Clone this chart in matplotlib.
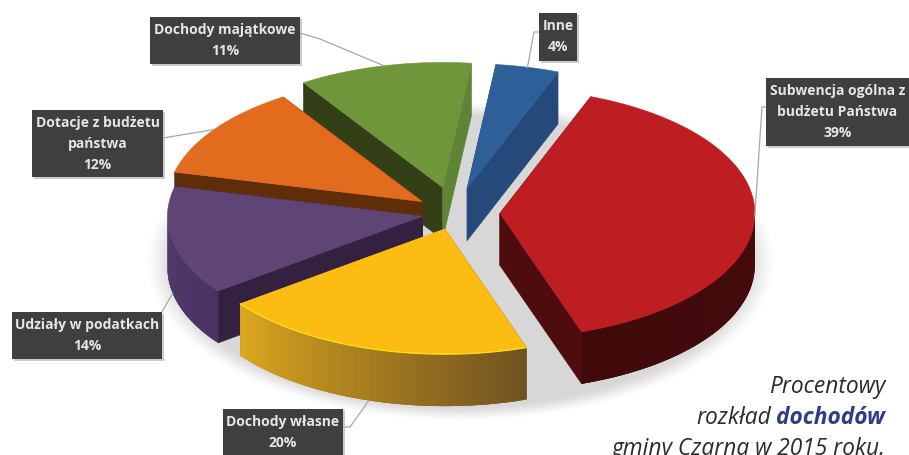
"""Exploded 3D pie of the Czarna municipality income shares in 2015."""

import numpy as np
import matplotlib

matplotlib.use("Agg")
import matplotlib.pyplot as plt
from matplotlib.collections import PolyCollection
from matplotlib.colors import to_rgb
from matplotlib.patches import Polygon, Rectangle

# clockwise from the top of the pie
labels = ["Inne", "Subwencja ogólna z\nbudżetu Państwa", "Dochody własne",
          "Udziały w podatkach", "Dotacje z budżetu\npaństwa", "Dochody majątkowe"]
shares = [4, 39, 20, 14, 12, 11]
explode = [0.20, 0.176, 0.135, 0.13, 0.157, 0.21]

top_colors = ["#2f5f98", "#be1e22", "#fcbc12", "#5f4576", "#e36b1e", "#6f963a"]
start_wall = ["#24497a", "#480b0d", "#7a5a20", "#34213f", "#5f2d08", "#333f16"]
end_wall = ["#24497a", "#4f0c0e", "#e0aa20", "#34213f", "#5f2d08", "#5f8435"]
arc_from = ["#24497a", "#4a0c0e", "#6f5220", "#493264", "#5f2d08", "#333f16"]
arc_to = ["#24497a", "#400a0b", "#dca71f", "#56406f", "#5f2d08", "#333f16"]

# back to front
draw_order = [5, 0, 4, 3, 1, 2]

CX, CY = 455.0, 214.0
RX, RY = 255.0, 125.0
DEPTH = 52.0
START_ANGLE = 6.5

# box x0, y0, x1, y1, leader start, leader elbow or None, leader ends on the bottom rim
label_boxes = [
    (539, 14, 577, 62, (539, 33), (534, 33), False),
    (766, 79, 909, 147, (766, 108), (762, 108), False),
    (223, 410, 343, 462, (343, 428), (350, 428), True),
    (12, 313, 162, 360, (162, 313), None, True),
    (32, 111, 163, 178, (163, 139), None, False),
    (150, 18, 300, 65, (300, 34), (320, 40), False),
]


def rim(theta, apex):
    t = np.radians(theta)
    return np.column_stack([apex[0] + RX * np.sin(t), apex[1] - RY * np.cos(t)])


def draw_slice(ax, i, a0, a1):
    mid = np.radians((a0 + a1) / 2)
    apex = (CX + explode[i] * RX * np.sin(mid), CY - explode[i] * RY * np.cos(mid))
    theta = np.linspace(a0, a1, 90)
    arc = rim(theta, apex)
    down = np.array([0, DEPTH])

    # the two cut faces
    a = np.array(apex)
    ax.add_patch(Polygon([a, arc[0], arc[0] + down, a + down], fc=start_wall[i], ec=start_wall[i], lw=0.4))
    ax.add_patch(Polygon([a, arc[-1], arc[-1] + down, a + down], fc=end_wall[i], ec=end_wall[i], lw=0.4))

    # outer wall, only where it faces the viewer; strips overlap to hide seams
    c0, c1 = np.array(to_rgb(arc_from[i])), np.array(to_rgb(arc_to[i]))
    strips, colors = [], []
    for k in range(len(arc) - 1):
        if not 90 <= theta[k] <= 270:
            continue
        k2 = min(k + 3, len(arc) - 1)
        strips.append([arc[k], arc[k2], arc[k2] + down, arc[k] + down])
        colors.append(c0 + (c1 - c0) * k / (len(arc) - 2))
    if strips:
        ax.add_collection(PolyCollection(strips, facecolors=colors, edgecolors="none"))

    ax.add_patch(Polygon(np.vstack([a, arc]), fc=top_colors[i], ec=top_colors[i], lw=0.4))
    if i == 2:
        ax.plot(arc[:, 0], arc[:, 1], color="#ffe01a", lw=0.9)
    return apex


fig = plt.figure(figsize=(9.09, 4.56), dpi=100)
ax = fig.add_axes([0, 0, 1, 1])
ax.set_xlim(0, 909)
ax.set_ylim(456, 0)
ax.axis("off")

# soft floor shadow
yy, xx = np.mgrid[0:456, 0:909]
dist = np.hypot((xx - 460) / 300, (yy - 262) / 152)
shadow = np.clip((1.0 - dist) / 0.12 + 0.5, 0, 1)
shadow = shadow * shadow * (3 - 2 * shadow)
ax.imshow(1 - 0.16 * shadow, cmap="gray", vmin=0, vmax=1, extent=(0, 909, 456, 0), aspect="auto", zorder=0)

edges = START_ANGLE + np.concatenate([[0], np.cumsum(shares)]) * 3.6
apexes = {}
for i in draw_order:
    apexes[i] = draw_slice(ax, i, edges[i], edges[i + 1])

# leader lines and label boxes
for i, (x0, y0, x1, y1, start, elbow, on_bottom) in enumerate(label_boxes):
    end = rim(np.array([(edges[i] + edges[i + 1]) / 2]), apexes[i])[0]
    if on_bottom:
        end = end + [0, DEPTH]
    pts = [start] + ([elbow] if elbow else []) + [tuple(end)]
    ax.plot(*zip(*pts), color="#a8a8a8", lw=0.9, zorder=5)

    ax.add_patch(Rectangle((x0 + 1.5, y0 + 1.5), x1 - x0, y1 - y0, fc="#b5b5b5", ec="none", alpha=0.7, zorder=6))
    ax.add_patch(Rectangle((x0, y0), x1 - x0, y1 - y0, fc="#3f3f3f", ec="none", zorder=7))
    lines = labels[i].split("\n") + [f"{shares[i]}%"]
    for n, line in enumerate(lines):
        ax.text((x0 + x1) / 2, y0 + 12 + n * 21, line, ha="center", va="center",
                color="#e6e6e6", fontsize=10.0, fontweight="bold", family="Open Sans", zorder=8)

# caption, right aligned
CAPTION = {"family": "Open Sans", "style": "italic", "fontsize": 16.4, "ha": "right", "va": "baseline"}
ax.text(885, 393, "Procentowy", color="#2b2b2b", **CAPTION)
word = ax.text(885, 424, "dochodów", color="#2e3c8c", fontweight="bold", **CAPTION)
ax.text(885, 455, "gminy Czarna w 2015 roku.", color="#2b2b2b", **CAPTION)
fig.canvas.draw()
box = word.get_window_extent().transformed(ax.transData.inverted())
ax.text(box.x0 - 5, 424, "rozkład", color="#2b2b2b", **CAPTION)

fig.savefig("out.png", dpi=100)
